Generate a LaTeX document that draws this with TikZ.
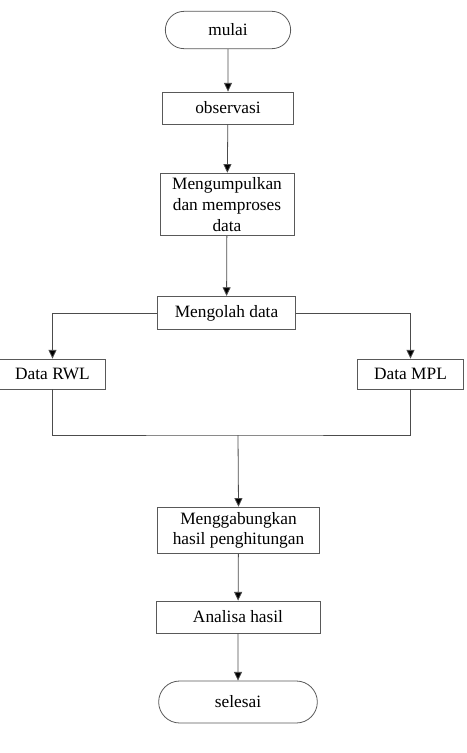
\documentclass[tikz,border=0pt]{standalone}
\usepackage{fontspec}
\setmainfont{Liberation Serif}
\usetikzlibrary{positioning,arrows.meta,shapes.misc}

\tikzset{
  proses/.style={draw=black!65,line width=0.6pt,rectangle,align=center,inner sep=2pt},
  terminal/.style={proses,rounded rectangle},
  alur/.style={draw=black!70,line width=0.6pt,-{Triangle[length=6.5pt,width=6pt,fill=black]}},
  garis/.style={draw=black!70,line width=0.6pt}
}

\begin{document}
\begin{tikzpicture}[x=0.75pt,y=-0.75pt,font=\fontsize{13pt}{15.5pt}\selectfont]
\useasboundingbox (0,0) rectangle (467,753);
% alur atas
\node[terminal,minimum width=98pt,minimum height=28pt] (mulai) at (228,30) {mulai};
\node[proses,minimum width=98pt,minimum height=24pt] (obs) at (228,108) {observasi};
\node[proses,minimum width=100.5pt,minimum height=47pt] (kumpul) at (227,204.5)
  {Mengumpulkan\\dan memproses\\data};
\node[proses,minimum width=103pt,minimum height=25pt] (olah) at (226.5,313) {Mengolah data};
% cabang data
\node[proses,minimum width=79pt,minimum height=22.5pt] (rwl) at (52.5,374) {Data RWL};
\node[proses,minimum width=79pt,minimum height=22.5pt] (mpl) at (410.5,374) {Data MPL};
\coordinate (gabung-titik) at (238,435);
% alur bawah
\node[proses,minimum width=122pt,minimum height=35pt] (gabung) at (238.5,530.5)
  {Menggabungkan\\hasil penghitungan};
\node[proses,minimum width=123pt,minimum height=24pt] (analisa) at (238,617) {Analisa hasil};
\node[terminal,minimum width=123pt,minimum height=31.5pt] (selesai) at (238,702) {selesai};

\draw[alur] (mulai) -- (obs);
\draw[alur] (obs) -- (kumpul);
\draw[alur] (kumpul) -- (olah);
\draw[alur] (olah.west) -| (rwl.north);
\draw[alur] (olah.east) -| (mpl.north);
\draw[garis] (rwl.south) |- (gabung-titik) -| (mpl.south);
\draw[alur] (gabung-titik) -- (gabung.north);
\draw[alur] (gabung) -- (analisa);
\draw[alur] (analisa) -- (selesai);
\end{tikzpicture}
\end{document}
